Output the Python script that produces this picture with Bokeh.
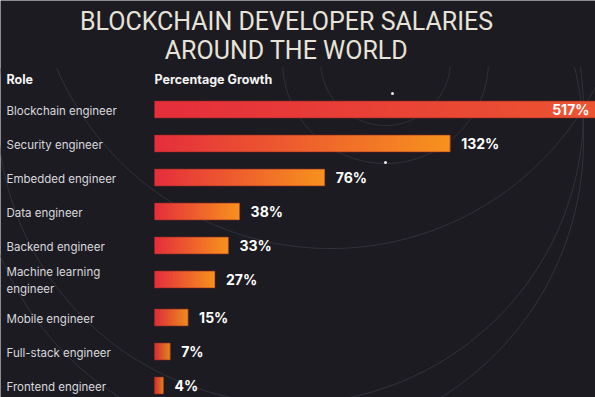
import numpy as np
from bokeh.plotting import figure
from bokeh.models import Range1d, Label
from bokeh.core.properties import value
from bokeh.embed import file_html
from bokeh.resources import INLINE

# ---- data ----
roles = ["Blockchain engineer", "Security engineer", "Embedded engineer",
         "Data engineer", "Backend engineer", "Machine learning\nengineer",
         "Mobile engineer", "Full-stack engineer", "Frontend engineer"]
growth = [517, 132, 76, 38, 33, 27, 15, 7, 4]
title_lines = ["BLOCKCHAIN DEVELOPER SALARIES", "AROUND THE WORLD"]
headers = ["Role", "Percentage Growth"]

# ---- layout ----
W, H = 595, 397
BG = "#1c1b22"
PX_PER_PCT = 2.24
ZERO_PX = 154
ROW_PX = 34
FIRST_ROW_PX = 109
WRAP_GAP = 4 / ROW_PX
RED = (229, 46, 60)
ORANGE = (247, 146, 30)
N = 80

x_start = -ZERO_PX / PX_PER_PCT
x_end = (W - ZERO_PX) / PX_PER_PCT
y_top = -FIRST_ROW_PX / ROW_PX
y_bottom = (H - FIRST_ROW_PX) / ROW_PX

p = figure(width=W, height=H, x_range=Range1d(x_start, x_end),
           y_range=Range1d(y_bottom, y_top), output_backend="svg",
           toolbar_location=None, min_border=0,
           x_axis_location=None, y_axis_location=None)
p.grid.visible = False
p.outline_line_color = None
p.background_fill_color = BG
p.border_fill_color = BG


def sx(px):
    return (px - ZERO_PX) / PX_PER_PCT


def sy(py):
    return (py - FIRST_ROW_PX) / ROW_PX


# faint decorative orbit lines of the background artwork (below the title)
deco = [(385, 60, 65), (385, 60, 103), (330, -50, 298), (290, 110, 293),
        (280, 140, 303)]
theta = np.linspace(0, 2 * np.pi, 720)
dxs, dys = [], []
for cx, cy, r in deco:
    px = cx + r * np.cos(theta)
    py = cy + r * np.sin(theta)
    keep = py > 66
    dxs.append(list(np.where(keep, sx(px), np.nan)))
    dys.append(list(np.where(keep, sy(py), np.nan)))
p.multi_line(xs=dxs, ys=dys, line_color="#393840", line_width=0.8)
p.scatter(x=[sx(392), sx(385)], y=[sy(93), sy(162)], size=3,
          fill_color="#e8e8e8", line_color=None)


def mix(t):
    r, g, b = (round(a + (c - a) * t) for a, c in zip(RED, ORANGE))
    return "#%02x%02x%02x" % (r, g, b)


# row positions: extra room after a two-line label
rows = []
pos = 0.0
for k, r in enumerate(roles):
    if k > 0:
        pos += 1 + (WRAP_GAP if "\n" in roles[k - 1] else 0)
    rows.append(pos)

# gradient bars built from overlapping slices
ys, lefts, rights, cols = [], [], [], []
for i, g in zip(rows, growth):
    for k in range(N):
        ys.append(i)
        lefts.append(g * k / N)
        rights.append(g * min(k + 2, N) / N)
        cols.append(mix((k + 0.5) / N))
p.hbar(y=ys, left=lefts, right=rights, height=0.5,
       fill_color=cols, line_color=None)
p.hbar(y=rows, left=0, right=growth, height=0.5, fill_color=None,
       line_color="#8e2a1e", line_alpha=0.6, line_width=1)

# value labels
inside = [(i, g) for i, g in zip(rows, growth) if g > x_end]
outside = [(i, g) for i, g in zip(rows, growth) if g <= x_end]
p.text(x=[g for _, g in outside], y=[i for i, _ in outside],
       text=[f"{g}%" for _, g in outside], x_offset=11,
       text_align="left", text_baseline="middle", text_color="#ffffff",
       text_font=value("Inter"), text_font_style="bold", text_font_size="14px")
p.text(x=[x_end for _ in inside], y=[i for i, _ in inside],
       text=[f"{g}%" for _, g in inside], x_offset=-6,
       text_align="right", text_baseline="middle", text_color="#ffffff",
       text_font=value("Inter"), text_font_style="bold", text_font_size="14px")

# role labels
p.text(x=[x_start] * len(roles), y=rows, text=roles, x_offset=6, y_offset=1,
       text_align="left", text_baseline="middle", text_color="#d9d9dc",
       text_font=value("Inter"), text_font_size="11.5px", text_line_height=1.15)

# headers
for txt, hx in zip(headers, [6, ZERO_PX]):
    p.add_layout(Label(x=hx, y=H - 79, x_units="screen", y_units="screen",
                       text=txt, text_baseline="middle", text_color="#f4f4f4",
                       text_font="Inter", text_font_style="bold",
                       text_font_size="12.5px"))

# title
for line, cy in zip(title_lines, [21, 49.5]):
    p.add_layout(Label(x=286, y=H - cy, x_units="screen", y_units="screen",
                       text=line, text_align="center", text_baseline="middle",
                       text_color="#e8e3d8", text_font="Roboto",
                       text_font_size="25px"))

open("out.html", "w").write(file_html(p, INLINE))
